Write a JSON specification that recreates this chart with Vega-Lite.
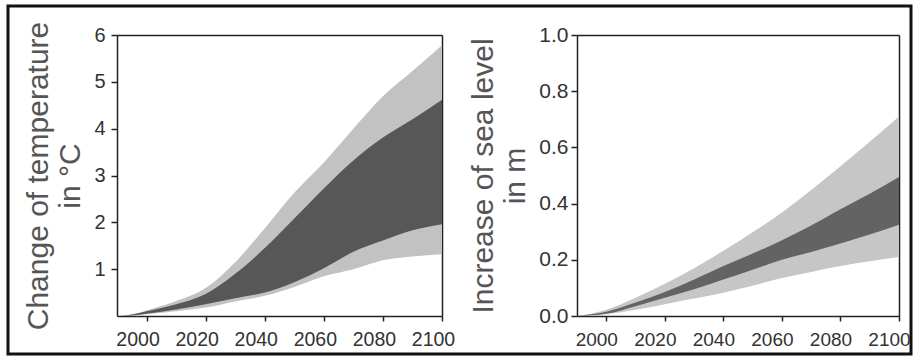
{
  "$schema": "https://vega.github.io/schema/vega-lite/v6.json",
  "width": 903,
  "height": 348,
  "autosize": {"type": "none"},
  "padding": {"left": 8, "top": 6, "right": 2, "bottom": 2},
  "background": "white",
  "config": {
    "view": {"stroke": "#111111", "strokeWidth": 3},
    "axis": {
      "grid": false,
      "domainColor": "#222222",
      "domainWidth": 1.5,
      "tickColor": "#222222",
      "tickWidth": 1.5,
      "labelFont": "Liberation Sans",
      "labelColor": "#333333",
      "titleFont": "Liberation Sans",
      "titleColor": "#555555",
      "titleFontWeight": "normal",
      "titleFontSize": 30,
      "labelOverlap": false,
      "labelFlush": false,
      "labelBound": false
    }
  },
  "datasets": {
    "temperature": [
      {"year": 1990, "outer_lo": 0, "outer_hi": 0, "inner_lo": 0, "inner_hi": 0},
      {"year": 1995, "outer_lo": 0.01, "outer_hi": 0.03, "inner_lo": 0.01, "inner_hi": 0.03},
      {"year": 2000, "outer_lo": 0.04, "outer_hi": 0.12, "inner_lo": 0.05, "inner_hi": 0.1},
      {"year": 2010, "outer_lo": 0.1, "outer_hi": 0.32, "inner_lo": 0.14, "inner_hi": 0.25},
      {"year": 2020, "outer_lo": 0.18, "outer_hi": 0.6, "inner_lo": 0.25, "inner_hi": 0.47},
      {"year": 2030, "outer_lo": 0.31, "outer_hi": 1.15, "inner_lo": 0.38, "inner_hi": 0.9},
      {"year": 2040, "outer_lo": 0.43, "outer_hi": 1.87, "inner_lo": 0.5, "inner_hi": 1.45},
      {"year": 2050, "outer_lo": 0.62, "outer_hi": 2.63, "inner_lo": 0.72, "inner_hi": 2.08},
      {"year": 2060, "outer_lo": 0.85, "outer_hi": 3.28, "inner_lo": 1.02, "inner_hi": 2.72},
      {"year": 2070, "outer_lo": 1.0, "outer_hi": 4.0, "inner_lo": 1.37, "inner_hi": 3.32},
      {"year": 2080, "outer_lo": 1.19, "outer_hi": 4.69, "inner_lo": 1.61, "inner_hi": 3.81},
      {"year": 2090, "outer_lo": 1.27, "outer_hi": 5.23, "inner_lo": 1.83, "inner_hi": 4.2},
      {"year": 2100, "outer_lo": 1.32, "outer_hi": 5.78, "inner_lo": 1.96, "inner_hi": 4.62}
    ],
    "sealevel": [
      {"year": 1990, "outer_lo": 0, "outer_hi": 0, "inner_lo": 0, "inner_hi": 0},
      {"year": 2000, "outer_lo": 0.006, "outer_hi": 0.022, "inner_lo": 0.008, "inner_hi": 0.015},
      {"year": 2010, "outer_lo": 0.022, "outer_hi": 0.065, "inner_lo": 0.035, "inner_hi": 0.048},
      {"year": 2020, "outer_lo": 0.042, "outer_hi": 0.115, "inner_lo": 0.065, "inner_hi": 0.085},
      {"year": 2030, "outer_lo": 0.062, "outer_hi": 0.17, "inner_lo": 0.095, "inner_hi": 0.13},
      {"year": 2040, "outer_lo": 0.083, "outer_hi": 0.232, "inner_lo": 0.13, "inner_hi": 0.178},
      {"year": 2050, "outer_lo": 0.108, "outer_hi": 0.298, "inner_lo": 0.165, "inner_hi": 0.222},
      {"year": 2060, "outer_lo": 0.135, "outer_hi": 0.368, "inner_lo": 0.2, "inner_hi": 0.27},
      {"year": 2070, "outer_lo": 0.157, "outer_hi": 0.448, "inner_lo": 0.228, "inner_hi": 0.322},
      {"year": 2080, "outer_lo": 0.178, "outer_hi": 0.533, "inner_lo": 0.258, "inner_hi": 0.38},
      {"year": 2090, "outer_lo": 0.195, "outer_hi": 0.62, "inner_lo": 0.29, "inner_hi": 0.435},
      {"year": 2100, "outer_lo": 0.21, "outer_hi": 0.71, "inner_lo": 0.325, "inner_hi": 0.495}
    ]
  },
  "layer": [
    {
      "data": {"name": "temperature"},
      "layer": [
        {
          "mark": {"type": "area", "color": "#c2c2c2", "interpolate": "monotone"},
          "encoding": {
            "x": {
              "field": "year",
              "type": "quantitative",
              "scale": {"domain": [1990, 2100], "range": [109, 434], "nice": false, "zero": false},
              "axis": {
                "orient": "bottom",
                "offset": -38,
                "title": null,
                "values": [2000, 2020, 2040, 2060, 2080, 2100],
                "format": "d",
                "tickSize": 5,
                "labelPadding": 9,
                "labelFontSize": 19.5,
                "labelOffset": -9
              }
            },
            "y": {
              "field": "outer_lo",
              "type": "quantitative",
              "scale": {"domain": [0, 6], "range": [310, 29], "nice": false},
              "axis": {
                "orient": "left",
                "offset": -109,
                "title": ["Change of temperature", "in °C"],
                "values": [1, 2, 3, 4, 5, 6],
                "format": "d",
                "tickSize": 6,
                "labelPadding": 6,
                "labelFontSize": 20,
                "titlePadding": 8
              }
            },
            "y2": {"field": "outer_hi"}
          }
        },
        {
          "mark": {"type": "area", "color": "#575757", "interpolate": "monotone"},
          "encoding": {
            "x": {
              "field": "year",
              "type": "quantitative",
              "axis": {"orient": "top", "offset": -29, "title": null, "ticks": false, "labels": false}
            },
            "y": {
              "field": "inner_lo",
              "type": "quantitative",
              "axis": {"orient": "right", "offset": -469, "title": null, "ticks": false, "labels": false}
            },
            "y2": {"field": "inner_hi"}
          }
        }
      ],
      "resolve": {"axis": {"x": "independent", "y": "independent"}}
    },
    {
      "data": {"name": "sealevel"},
      "layer": [
        {
          "mark": {"type": "area", "color": "#c6c6c6", "interpolate": "monotone"},
          "encoding": {
            "x": {
              "field": "year",
              "type": "quantitative",
              "scale": {"domain": [1990, 2100], "range": [569, 891], "nice": false, "zero": false},
              "axis": {
                "orient": "bottom",
                "offset": -38,
                "title": null,
                "values": [2000, 2020, 2040, 2060, 2080, 2100],
                "format": "d",
                "tickSize": 5,
                "labelPadding": 9,
                "labelFontSize": 19,
                "labelOffset": -10
              }
            },
            "y": {
              "field": "outer_lo",
              "type": "quantitative",
              "scale": {"domain": [0, 1], "range": [310, 29], "nice": false},
              "axis": {
                "orient": "left",
                "offset": -569,
                "title": ["Increase of sea level", "in m"],
                "values": [0, 0.2, 0.4, 0.6, 0.8, 1.0],
                "format": ".1f",
                "tickSize": 6,
                "labelPadding": 3,
                "labelFontSize": 21,
                "titlePadding": 8
              }
            },
            "y2": {"field": "outer_hi"}
          }
        },
        {
          "mark": {"type": "area", "color": "#636363", "interpolate": "monotone"},
          "encoding": {
            "x": {
              "field": "year",
              "type": "quantitative",
              "axis": {"orient": "top", "offset": -29, "title": null, "ticks": false, "labels": false}
            },
            "y": {
              "field": "inner_lo",
              "type": "quantitative",
              "axis": {"orient": "right", "offset": -12, "title": null, "ticks": false, "labels": false}
            },
            "y2": {"field": "inner_hi"}
          }
        }
      ],
      "resolve": {"axis": {"x": "independent", "y": "independent"}}
    }
  ],
  "resolve": {
    "scale": {"x": "independent", "y": "independent"},
    "axis": {"x": "independent", "y": "independent"}
  }
}
